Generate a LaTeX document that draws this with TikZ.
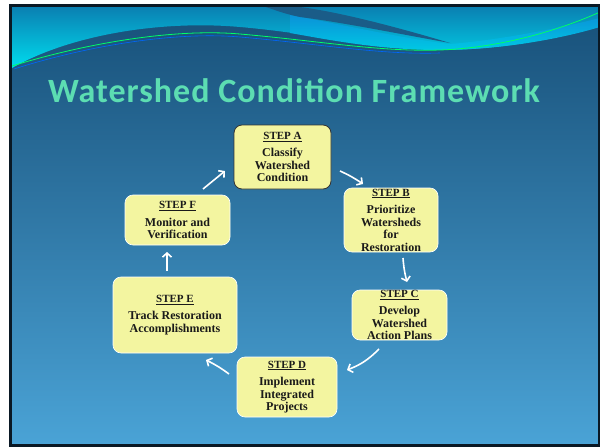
\documentclass[tikz,border=0pt]{standalone}
\usepackage{fontspec}
\setmainfont{Liberation Serif}
\newfontfamily\titlefont[LetterSpace=3]{Carlito}
\usetikzlibrary{arrows.meta}
\definecolor{boxfill}{HTML}{F3F5A0}
\definecolor{bgtop}{HTML}{174F78}
\definecolor{bgmid}{HTML}{2A76A8}
\definecolor{bgbot}{HTML}{4AA3D6}
\definecolor{cyantop}{HTML}{0A80B2}
\definecolor{cyanbot}{HTML}{00DCEE}
\definecolor{swoosh}{HTML}{1A5C88}
\definecolor{bandtop}{HTML}{0A92D8}
\definecolor{bandbot}{HTML}{00C8E4}
\definecolor{titlegreen}{HTML}{5CDDB2}
\definecolor{framecol}{HTML}{0A1824}
\definecolor{txt}{HTML}{1A1A1A}
\tikzset{
  stepbox/.style={draw=white, line width=0.6pt, fill=boxfill, rounded corners=8pt,
    align=center, inner sep=0pt, text=txt,
    font=\bfseries\fontsize{12}{12.5}\selectfont},
  cyc/.style={draw=white, line width=1.6pt, -{Straight Barb[length=4pt,width=9pt]}},
}
\newcommand{\steplabel}[1]{{\fontsize{11}{12}\selectfont\underline{#1}}}
\begin{document}
\begin{tikzpicture}[x=1pt,y=-1pt]
\useasboundingbox (0,0) rectangle (600,447);
\fill[white] (0,0) rectangle (600,447);
% background
\shade[top color=bgtop, middle color=bgmid, bottom color=bgbot] (10,6) rectangle (599,445);
% top cyan region
\shade[top color=cyantop, bottom color=cyanbot]
  (12,7) -- (600,7) -- (600,26)
  .. controls (560,38) and (500,50) .. (440,50)
  .. controls (380,50) and (320,34) .. (240,27)
  .. controls (160,20) and (70,35) .. (12,68) -- cycle;
% bright band under swoosh
\shade[top color=bandtop, bottom color=bandbot]
  (290,15) .. controls (350,26) and (400,38) .. (450,44)
  .. controls (500,40) and (560,28) .. (600,18) -- (600,27)
  .. controls (560,39) and (500,50) .. (440,50)
  .. controls (380,50) and (330,40) .. (290,33) -- cycle;
% dark swoosh
\fill[swoosh] (266,7) -- (300,7)
  .. controls (340,12) and (400,28) .. (450,43)
  .. controls (400,34) and (340,22) .. (300,17)
  .. controls (285,14) and (275,10) .. (266,7) -- cycle;
% thin lines
\draw[line width=0.8pt, color=green!60!cyan] (12,66) .. controls (80,45) and (170,28) .. (240,34)
  .. controls (320,41) and (380,52) .. (440,50) .. controls (500,48) and (560,30) .. (600,12);
\draw[line width=0.6pt, color=blue!60!cyan] (14,69) .. controls (80,48) and (170,31) .. (240,37)
  .. controls (320,44) and (380,55) .. (440,53);
% frame
\draw[line width=3pt, color=framecol] (10,5.5) rectangle (599.5,445.5);
% title
\node[font=\titlefont\bfseries\fontsize{34}{34}\selectfont, text=titlegreen, anchor=base] (title) at (294,102) {Watershed Condition Framework};
% boxes
\node[stepbox, draw=black!80, line width=0.8pt, minimum width=97pt, minimum height=64pt] (A) at (282.5,157)
  {\steplabel{STEP A}\\[5pt]Classify\\Watershed\\Condition};
\node[stepbox, minimum width=94pt, minimum height=64pt] (B) at (391,220)
  {\steplabel{STEP B}\\[5pt]Prioritize\\Watersheds\\for\\Restoration};
\node[stepbox, minimum width=95pt, minimum height=50pt] (C) at (399.5,315)
  {\steplabel{STEP C}\\[5pt]Develop\\Watershed\\Action Plans};
\node[stepbox, minimum width=100pt, minimum height=60pt] (D) at (287,387)
  {\steplabel{STEP D}\\[5pt]Implement\\Integrated\\Projects};
\node[stepbox, minimum width=124pt, minimum height=76pt] (E) at (175,315)
  {\steplabel{STEP E}\\[5pt]Track Restoration\\Accomplishments};
\node[stepbox, minimum width=105pt, minimum height=50pt] (F) at (177.5,220)
  {\steplabel{STEP F}\\[5pt]Monitor and\\Verification};
% arrow ends
\coordinate (ab1) at (340,171); \coordinate (ab2) at (363,184);
\coordinate (bc1) at (403,258); \coordinate (bc2) at (407,282);
\coordinate (cd1) at (379,349); \coordinate (cd2) at (347,370);
\coordinate (de1) at (229,374); \coordinate (de2) at (206,360);
\coordinate (ef1) at (167,271); \coordinate (ef2) at (167,252);
\coordinate (fa1) at (203,189); \coordinate (fa2) at (225,171);
\draw[cyc] (ab1) to[bend left=5] (ab2);
\draw[cyc] (bc1) to[bend right=5] (bc2);
\draw[cyc] (cd1) to[bend left=12] (cd2);
\draw[cyc] (de1) to[bend right=5] (de2);
\draw[cyc] (ef1) -- (ef2);
\draw[cyc] (fa1) -- (fa2);
\end{tikzpicture}
\end{document}
